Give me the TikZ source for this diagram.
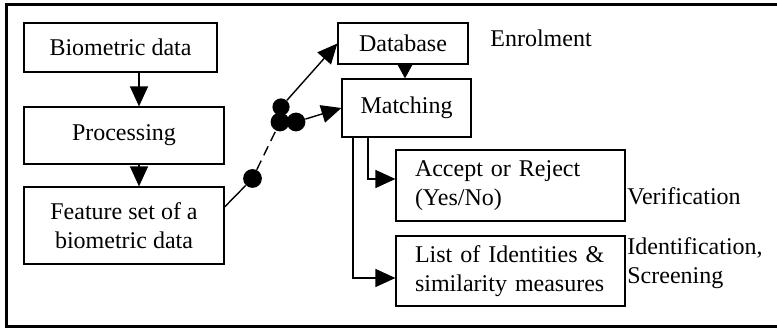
\documentclass[tikz,border=0pt]{standalone}
\usepackage{fontspec}
\setmainfont{Liberation Serif}
\usetikzlibrary{arrows.meta}
\begin{document}
\begin{tikzpicture}[x=0.5pt,y=-0.5pt,
  txt/.style={font=\fontsize{12}{14.5}\selectfont},
  box/.style={txt,draw,line width=0.6pt,rectangle,inner sep=0pt,align=center},
  lbox/.style={txt,draw,line width=0.6pt,rectangle,inner ysep=0pt,inner xsep=9.5pt,align=left,text width=95.5pt},
  lab/.style={txt,anchor=west,inner sep=0pt,align=left},
  con/.style={line width=0.7pt},
  arr/.style={con,-{Triangle[length=10pt,width=9pt]}},
  sarr/.style={con,-{Triangle[length=7.5pt,width=8pt]}},
  dot/.style={circle,fill,inner sep=0pt,minimum size=9.4pt}]
\useasboundingbox (0,0) rectangle (777,330);
\draw[line width=1.5pt] (790,4.5) -- (6.5,4.5) -- (6.5,327) -- (790,327);
\node[box,minimum width=96.5pt,minimum height=24.5pt] (bio) at (120.5,47.5) {Biometric data};
\node[box,minimum width=100pt,minimum height=28.5pt] (proc) at (124,135.5) {Processing};
\node[box,minimum width=100pt,minimum height=38.5pt] (feat) at (124,225.5) {Feature set of a\\biometric data};
\node[box,minimum width=65pt,minimum height=20.5pt] (db) at (403,43.5) {Database};
\node[box,minimum width=64.5pt,minimum height=29pt] (match) at (406.5,108) {Matching};
\node[lbox,minimum height=35.5pt] (acc) at (510.5,185.5) {Accept or Reject\\(Yes/No)};
\node[lbox,minimum height=35pt] (list) at (510.5,271) {List of Identities \&\\similarity measures};
\node[lab] (enr) at (490,38) {Enrolment};
\node[lab] (ver) at (627,196) {Verification};
\node[lab] (ident) at (627,263) {Identification,\\Screening};
\node[dot] (d1) at (252.5,178.5) {};
\node[dot,minimum size=8.6pt] (d2) at (281,107) {};
\node[dot] (d3) at (280,122) {};
\node[dot] (d4) at (296,122) {};
\draw[arr] (139,0 |- bio.south) -- (139,0 |- proc.north);
\draw[arr] (139,0 |- proc.south) -- (139,0 |- feat.north);
\draw[con] ([yshift=9.25pt]feat.east) -- (d1);
\draw[con,dash pattern=on 5pt off 3pt] (d1) -- (d3);
\draw[arr] (d2) -- (db.west);
\draw[arr] (d4) -- (match.west);
\draw[sarr] (405,0 |- db.south) -- (405,0 |- match.north);
\draw[arr] (368,0 |- match.south) |- ([yshift=3.25pt]acc.west);
\draw[arr] (353,0 |- match.south) |- ([yshift=-3.5pt]list.west);
\end{tikzpicture}
\end{document}
